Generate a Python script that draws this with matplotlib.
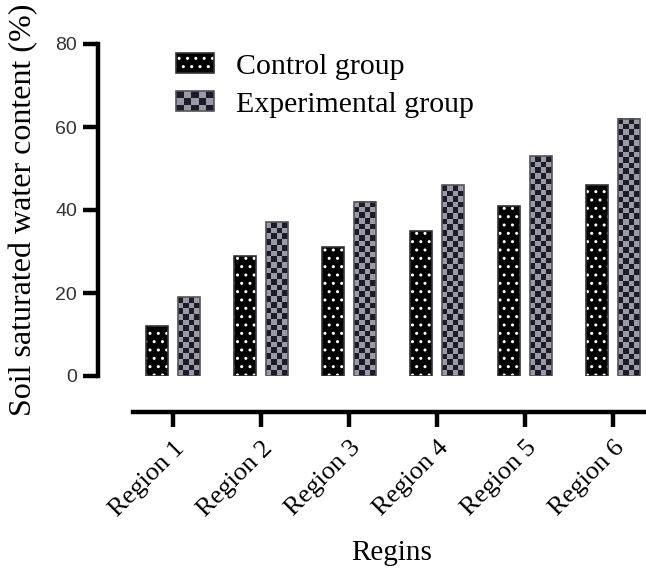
import numpy as np
import matplotlib
matplotlib.use("Agg")
import matplotlib.pyplot as plt
from matplotlib.patches import Rectangle, Patch
from matplotlib.legend_handler import HandlerBase

categories = ["Region 1", "Region 2", "Region 3", "Region 4", "Region 5", "Region 6"]
control = [12, 29, 31, 35, 41, 46]
experimental = [19, 37, 42, 46, 53, 62]
series_names = ["Control group", "Experimental group"]
y_ticks = [0, 20, 40, 60, 80]
x_label = "Regins"
y_label = "Soil saturated water content (%)"

SERIF = "Liberation Serif"
SANS = "Liberation Sans"
DARK = "#1b1c28"
LIGHT = "#9a9aa6"

W, H, DPI = 646, 572, 100
fig = plt.figure(figsize=(W / DPI, H / DPI), dpi=DPI)
ax = fig.add_axes([98 / W, (H - 376) / H, 1 - 98 / W, (376 - 44) / H])

x = np.arange(len(categories))
bw = 0.25
off = 0.185

# control: black with white dots
ax.bar(x - off, control, bw, color="black", edgecolor="white", hatch="..", linewidth=0, zorder=2)
ax.bar(x - off, control, bw, facecolor="none", edgecolor="#333333", linewidth=1.2, zorder=3)

# experimental: checkerboard
ax_h_px = (376 - 44)
cmap = matplotlib.colors.ListedColormap([LIGHT, DARK])
for xi, v in zip(x, experimental):
    hpx = v / 80 * ax_h_px
    nrows = max(1, int(round(hpx / 5.6)))
    ncols = 4
    img = (np.indices((nrows, ncols)).sum(axis=0) % 2)
    ax.imshow(img, cmap=cmap, extent=(xi + off - bw / 2, xi + off + bw / 2, 0, v),
              aspect="auto", interpolation="nearest", zorder=2, origin="lower")
    ax.bar(xi + off, v, bw, facecolor="none", edgecolor="#555555", linewidth=1.2, zorder=3)

xl = (98 - 173) / 88
xr = (646 - 173) / 88
ax.set_xlim(xl, xr)
ax.set_ylim(0, 80)

for s in ["top", "right"]:
    ax.spines[s].set_visible(False)
ax.spines["left"].set_linewidth(3.2)
ax.spines["bottom"].set_linewidth(3.2)
ax.spines["left"].set_bounds(0, 80)
ax.spines["bottom"].set_position(("outward", 36 * 72 / DPI))
ax.spines["bottom"].set_bounds((133 - 173) / 88, xr)

ax.set_yticks(y_ticks)
ax.set_yticklabels([str(t) for t in y_ticks], fontfamily=SANS, fontsize=14, color="#333333")
ax.set_xticks(x)
ax.set_xticklabels(categories, fontfamily=SERIF, fontsize=19, rotation=45,
                   ha="right", rotation_mode="anchor")
ax.tick_params(axis="both", length=11, width=3.2, direction="out")
ax.tick_params(axis="y", pad=4)
ax.tick_params(axis="x", pad=7)

ax.set_ylabel(y_label, fontfamily=SERIF, fontsize=23, va="center")
ax.yaxis.set_label_coords((24 - 98) / (W - 98), 0.5)
ax.set_xlabel(x_label, fontfamily=SERIF, fontsize=21, va="top")
ax.xaxis.set_label_coords((392 - 98) / (W - 98), (376 - 540) / (376 - 44))


class CheckerHandler(HandlerBase):
    def create_artists(self, legend, orig_handle, xdescent, ydescent, width, height, fontsize, trans):
        arts = []
        nx, ny = 5, 3
        cw, ch = width / nx, height / ny
        for i in range(nx):
            for j in range(ny):
                c = DARK if (i + j) % 2 == 0 else LIGHT
                arts.append(Rectangle((-xdescent + i * cw, -ydescent + j * ch), cw, ch,
                                      facecolor=c, edgecolor="none", transform=trans))
        arts.append(Rectangle((-xdescent, -ydescent), width, height, facecolor="none",
                              edgecolor="#555555", linewidth=1.2, transform=trans))
        return arts


h_ctrl = (Patch(facecolor="black", edgecolor="white", hatch="..", linewidth=0),
          Patch(facecolor="none", edgecolor="#333333", linewidth=1.2))
h_exp = Patch(facecolor=DARK)

leg = fig.legend([h_ctrl, h_exp], series_names, loc="upper left",
                 bbox_to_anchor=(176 / W, 1 - 53 / H), frameon=False,
                 prop={"family": SERIF, "size": 21.5}, handlelength=1.27, handleheight=0.67,
                 handletextpad=0.75, labelspacing=0.38, borderpad=0, borderaxespad=0,
                 handler_map={h_exp: CheckerHandler()})

fig.savefig("out.png", dpi=DPI)
